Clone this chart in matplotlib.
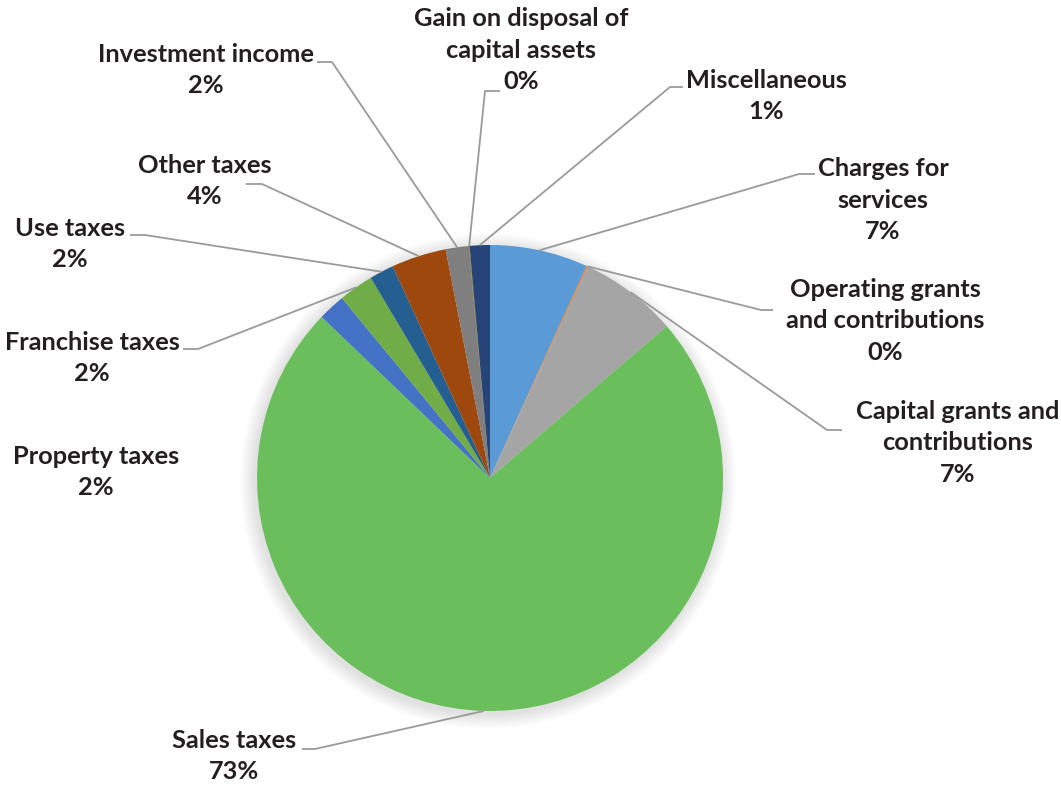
import numpy as np
import matplotlib.pyplot as plt
from matplotlib.patches import Circle

plt.rcParams['font.family'] = ['Lato', 'DejaVu Sans']

# data (clockwise from 12 o'clock)
categories = ["Charges for\nservices", "Operating grants\nand contributions",
              "Capital grants and\ncontributions", "Sales taxes", "Property taxes",
              "Franchise taxes", "Use taxes", "Other taxes", "Investment income",
              "Gain on disposal of\ncapital assets", "Miscellaneous"]
values = [6.8, 0.1, 6.8, 73.4, 1.9, 2.4, 1.7, 3.8, 1.6, 0.05, 1.4]
colors = ["#5B9BD5", "#ED7D31", "#A5A5A5", "#6ABE5C", "#4472C4", "#70AD47",
          "#255E91", "#9E480E", "#7F7F7F", "#997300", "#264478"]

# layout in picture pixels (y measured from the top)
W, H = 1061, 786
cx, cy, R = 490, 478, 233
text_pos = [(883, 200), (885, 321), (958, 443), (234, 756), (96, 472), (92, 358),
            (70, 244), (205, 181), (206, 70), (521, 50), (766, 96)]
elbows = [[(799, 174), (815, 174)], [(761, 310), (773, 310)], [(827, 430), (842, 430)],
          [(315, 749), (302, 749)], None, [(198, 349), (183, 349)],
          [(145, 235), (130, 235)], [(262, 184), (246, 184)], [(332, 62), (317, 62)],
          [(485, 91), (500, 91)], [(670, 87), (683, 87)]]

fig = plt.figure(figsize=(W / 100, H / 100), dpi=100)
ax = fig.add_axes([0, 0, 1, 1])

# soft shadow round the pie
for k in range(1, 16):
    ax.add_patch(Circle((cx - 2, H - cy - 3), R + k, color="black", alpha=0.006, lw=0, zorder=0))

wedges, _ = ax.pie(values, colors=colors, startangle=90, counterclock=False,
                   radius=R, center=(cx, H - cy), wedgeprops=dict(linewidth=0))
for w in wedges:
    w.set_zorder(2)

total = sum(values)
for w, name, v, tp, el in zip(wedges, categories, values, text_pos, elbows):
    ang = np.deg2rad((w.theta1 + w.theta2) / 2)
    sx, sy = cx + R * np.cos(ang), (H - cy) + R * np.sin(ang)
    if el is not None:
        xs = [sx] + [p[0] for p in el]
        ys = [sy] + [H - p[1] for p in el]
        ax.plot(xs, ys, color="#9A9A9A", lw=1.3, zorder=3, solid_capstyle="butt")
    pct = int(round(v / total * 100))
    ax.text(tp[0], H - tp[1], f"{name}\n{pct}%", ha="center", va="center",
            fontsize=18.3, fontweight="bold", color="#231F20", linespacing=1.45, zorder=4)

ax.set_xlim(0, W)
ax.set_ylim(0, H)
ax.set_aspect("equal")
ax.axis("off")

fig.savefig("out.png", dpi=100)
